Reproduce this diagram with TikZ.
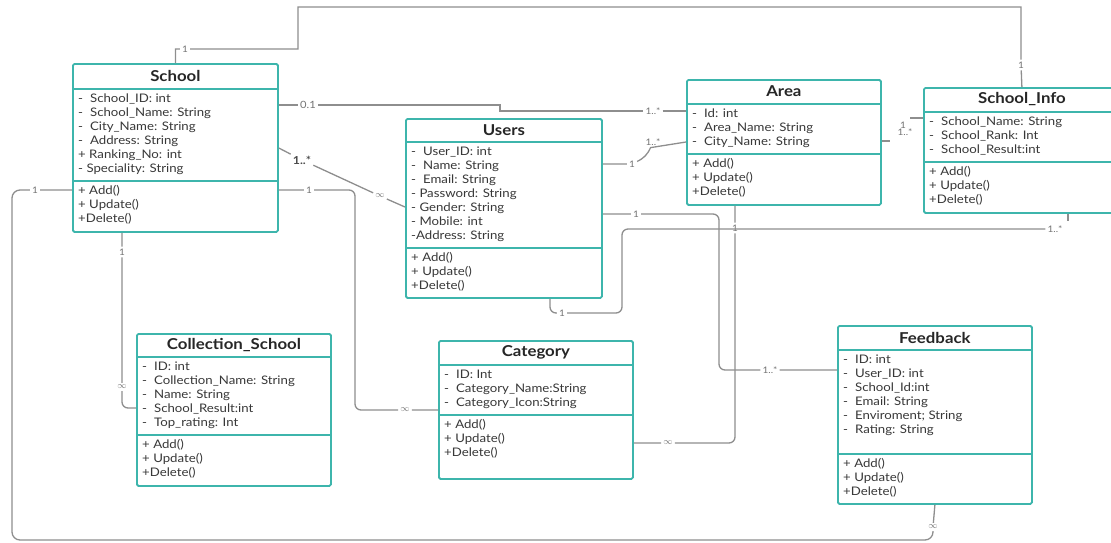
\documentclass[tikz,border=0pt]{standalone}
\usepackage{fontspec}
\setmainfont{Lato}[FakeStretch=1.12]
\usepackage{tikz}

\definecolor{boxteal}{HTML}{3DB5AC}
\definecolor{linegray}{HTML}{8E8E8E}

% one class box: name, x, y, width, height, title band, attribute band, title, attributes
\newcommand{\umlclass}[9]{%
  \node[classbox, minimum width=#4pt, minimum height=#5pt, anchor=north west] (#1) at (#2,#3) {};
  \draw[divider] ([shift={(0,#6)}]#1.north west) -- ([shift={(0,#6)}]#1.north east);
  \draw[divider] ([shift={(0,#6+#7)}]#1.north west) -- ([shift={(0,#6+#7)}]#1.north east);
  \node[classtitle] (#1-title) at ([shift={(0,#6/2)}]#1.north) {#8};
  \node[members, anchor=north west] (#1-attr) at ([shift={(6,#6+5)}]#1.north west) {#9};
  \node[members, anchor=north west] (#1-ops) at ([shift={(6,#6+#7+4)}]#1.north west)
    {+ Add()\\+ Update()\\+Delete()};
}

\begin{document}
\begin{tikzpicture}[x=1pt, y=-1pt,
  classbox/.style={draw=boxteal, line width=1.8pt, fill=white, rounded corners=1.5pt, inner sep=0pt},
  divider/.style={draw=boxteal, line width=1.5pt},
  classtitle/.style={font=\fontsize{15}{16}\selectfont\bfseries, text=black!85},
  members/.style={font=\fontsize{11.8}{14}\selectfont, text=black!78, align=left, inner sep=0pt},
  mult/.style={font=\fontsize{9}{10}\selectfont, text=black!55, inner sep=2pt},
  conn/.style={draw=linegray, line width=1.3pt}]
\useasboundingbox (0,0) rectangle (1111,542);

\umlclass{School}{72}{63}{205}{168}{26}{92}{School}
  {-\hspace{7pt}School\_ID: int\\-\hspace{7pt}School\_Name: String\\-\hspace{7pt}City\_Name: String\\
   -\hspace{7pt}Address: String\\+ Ranking\_No: int\\- Speciality: String}
\umlclass{Users}{405}{118}{196}{179}{24}{106}{Users}
  {-\hspace{7pt}User\_ID: int\\-\hspace{7pt}Name: String\\-\hspace{7pt}Email: String\\
   - Password: String\\- Gender: String\\- Mobile: int\\-Address: String}
\umlclass{Area}{686}{79}{194}{125}{25}{50}{Area}
  {-\hspace{7pt}Id: int\\-\hspace{7pt}Area\_Name: String\\-\hspace{7pt}City\_Name: String}
\umlclass{SchoolInfo}{923}{87}{196}{125}{25}{50}{School\_Info}
  {-\hspace{7pt}School\_Name: String\\-\hspace{7pt}School\_Rank: Int\\-\hspace{7pt}School\_Result:int}
\umlclass{Collection}{136}{333}{194}{152}{24}{78}{Collection\_School}
  {-\hspace{7pt}ID: int\\-\hspace{7pt}Collection\_Name: String\\-\hspace{7pt}Name: String\\
   -\hspace{7pt}School\_Result:int\\-\hspace{7pt}Top\_rating: Int}
\umlclass{Category}{438}{340}{194}{138}{25}{50}{Category}
  {-\hspace{7pt}ID: Int\\-\hspace{7pt}Category\_Name:String\\-\hspace{7pt}Category\_Icon:String}
\umlclass{Feedback}{837}{325}{194}{178}{25}{104}{Feedback}
  {-\hspace{7pt}ID: int\\-\hspace{7pt}User\_ID: int\\-\hspace{7pt}School\_Id:int\\
   -\hspace{7pt}Email: String\\-\hspace{7pt}Enviroment; String\\-\hspace{7pt}Rating: String}

% multiplicities
\node[mult] (si-s) at (185,49) {1};
\node[mult] (si-i) at (1021,65) {1};
\node[mult, font=\fontsize{10}{11}\selectfont] (ar-s) at (308,105) {0.1};
\node[mult] (ar-a) at (653,111) {1..*};
\node[mult, font=\fontsize{11}{12}\selectfont\bfseries, text=black!70] (us-s) at (302,160) {1..*};
\node[mult] (us-u) at (380,196) {$\infty$};
\node[mult] (ca-s) at (309,190) {1};
\node[mult] (ca-c) at (405,410) {$\infty$};
\node[mult] (fb-s) at (35,190) {1};
\node[mult] (fb-f) at (933,527) {$\infty$};
\node[mult] (co-s) at (122,252) {1};
\node[mult] (co-c) at (122,387) {$\infty$};
\node[mult] (ua-u) at (632,164) {1};
\node[mult] (ua-a) at (653,142) {1..*};
\node[mult] (uf-u) at (636,214) {1};
\node[mult] (uf-f) at (770,370) {1..*};
\node[mult] (ac-a) at (735,228) {1};
\node[mult] (ac-c) at (668,443) {$\infty$};
\node[mult] (ui-u) at (562,313) {1};
\node[mult] (ui-i) at (1055,229) {1..*};
\node[mult] (ai-i) at (903,125) {1};
\node[mult] (ai-a) at (905,132) {1..*};

% associations
\draw[conn] (School.north) |- (si-s) -- (298,49) -- (298,7) -| (si-i) -- (SchoolInfo.north);
\draw[conn] ([shift={(0,42)}]School.north east) -- (ar-s) -- (500,105) -- (500,111)
  -- (ar-a) -- ([shift={(0,32)}]Area.north west);
\draw[conn] ([shift={(0,85)}]School.north east) -- (us-s) -- (us-u) -- ([shift={(0,89)}]Users.north west);
\draw[conn, rounded corners=6pt] ([shift={(0,127)}]School.north east) -- (ca-s) -| (355,410)
  -- (ca-c) -- ([shift={(0,70)}]Category.north west);
\draw[conn, rounded corners=8pt] ([shift={(0,127)}]School.north west) -- (fb-s) -| (12,540)
  -| (fb-f) -- (Feedback.south);
\draw[conn, rounded corners=6pt] ([shift={(50,0)}]School.south west) -- (co-s) -- (co-c)
  |- ([shift={(0,75)}]Collection.north west);
\draw[conn] ([shift={(0,46)}]Users.north east) -- (ua-u) to[bend right=20] (ua-a)
  -- ([shift={(0,63)}]Area.north west);
\draw[conn, rounded corners=6pt] ([shift={(0,96)}]Users.north east) -- (uf-u) -| (719,370)
  -- (uf-f) -- ([shift={(0,45)}]Feedback.north west);
\draw[conn, rounded corners=6pt] ([shift={(49,0)}]Area.south west) -- (ac-a) |- (ac-c)
  -- ([shift={(0,103)}]Category.north east);
\draw[conn, rounded corners=6pt] ([shift={(145,0)}]Users.south west) |- (ui-u) -| (622,229) -- (ui-i);
\draw[conn] ([shift={(145,0)}]SchoolInfo.south west) -- ++(0,7);
\draw[conn] ([shift={(0,62)}]Area.north east) -- ++(8,0);
\draw[conn] ([shift={(0,31)}]SchoolInfo.north west) -- ++(-13,0);
\end{tikzpicture}
\end{document}
